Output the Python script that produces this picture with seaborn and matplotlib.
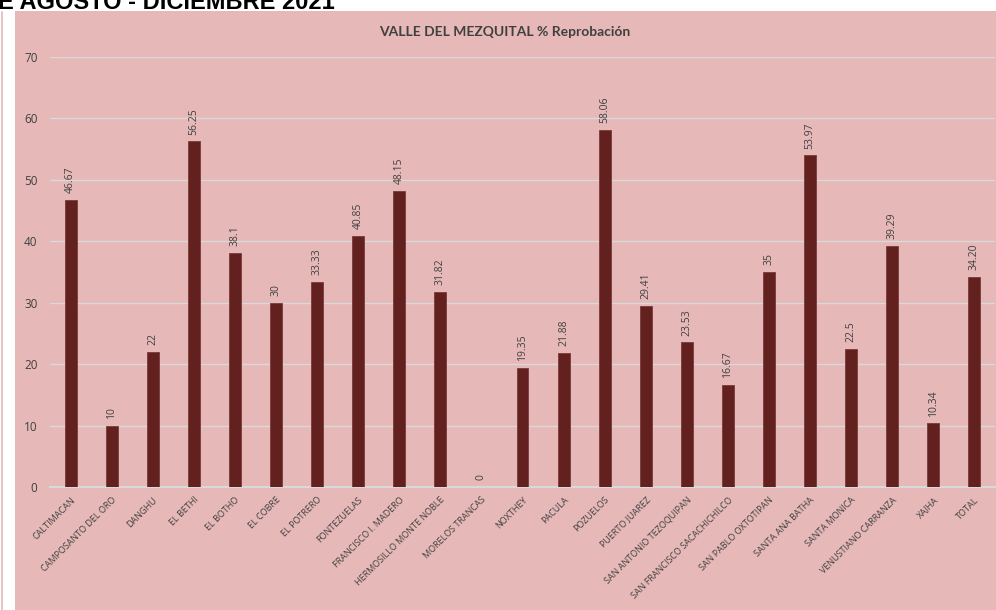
import matplotlib
matplotlib.use("Agg")
import matplotlib.pyplot as plt
import seaborn as sns
import pandas as pd
from matplotlib.patches import Rectangle
from matplotlib.lines import Line2D

escuelas = ["CALTIMACAN", "CAMPOSANTO DEL ORO", "DANGHU", "EL BETHI", "EL BOTHO",
            "EL COBRE", "EL POTRERO", "FONTEZUELAS", "FRANCISCO I. MADERO",
            "HERMOSILLO MONTE NOBLE", "MORELOS TRANCAS", "NOXTHEY", "PACULA",
            "POZUELOS", "PUERTO JUAREZ", "SAN ANTONIO TEZOQUIPAN",
            "SAN FRANCISCO SACACHICHILCO", "SAN PABLO OXTOTIPAN", "SANTA ANA BATHA",
            "SANTA MONICA", "VENUSTIANO CARRANZA", "XAJHA", "TOTAL"]
reprobacion = [46.67, 10, 22, 56.25, 38.1, 30, 33.33, 40.85, 48.15, 31.82, 0,
               19.35, 21.88, 58.06, 29.41, 23.53, 16.67, 35, 53.97, 22.5, 39.29,
               10.34, 34.20]
etiquetas = ["46.67", "10", "22", "56.25", "38.1", "30", "33.33", "40.85", "48.15",
             "31.82", "0", "19.35", "21.88", "58.06", "29.41", "23.53", "16.67",
             "35", "53.97", "22.5", "39.29", "10.34", "34.20"]

sns.set_style("white")
plt.rcParams['font.family'] = ['Open Sans', 'DejaVu Sans']

rosa = "#E6B8B8"
gris = "#404040"

df = pd.DataFrame({'escuela': escuelas, 'pct': reprobacion})

fig = plt.figure(figsize=(9.96, 6.10), dpi=100)
fig.patch.set_facecolor("white")
# fondo rosa del area del grafico
fig.patches.append(Rectangle((15 / 996, 0), 1, 1 - 11 / 610, transform=fig.transFigure,
                             facecolor=rosa, edgecolor="none", zorder=-5))
fig.lines.append(Line2D([1.5 / 996, 1.5 / 996], [0, 1 - 12 / 610], transform=fig.transFigure,
                        color=rosa, lw=1.2, zorder=-5))

ax = fig.add_axes([50 / 996, 123 / 610, 945 / 996, 430 / 610])
ax.set_facecolor("none")
sns.barplot(data=df, x='escuela', y='pct', color="#62211F", width=0.29,
            saturation=1, ax=ax, zorder=3, edgecolor="#7A3A38", linewidth=0.6)

ax.set_xlim(-0.5, 22.5)
ax.set_ylim(0, 70)
ax.set_yticks(range(0, 71, 10))
ax.yaxis.grid(True, color="#D9D9D9", lw=1)
ax.set_axisbelow(True)
for s in ax.spines.values():
    s.set_visible(False)
ax.spines['bottom'].set_visible(True)
ax.spines['bottom'].set_color("#D9D9D9")
ax.spines['bottom'].set_linewidth(1.5)
ax.set_xlabel("")
ax.set_ylabel("")
ax.tick_params(axis='y', length=0, pad=9, labelsize=8.5, labelcolor=gris)
ax.tick_params(axis='x', length=0, pad=6, labelsize=6.5, labelcolor=gris)
plt.setp(ax.get_xticklabels(), rotation=45, ha="right", rotation_mode="anchor")

for i, (v, t) in enumerate(zip(reprobacion, etiquetas)):
    ax.annotate(t, (i, v), xytext=(0, 5), textcoords="offset points",
                rotation=90, ha="center", va="bottom", fontsize=7.5, color=gris)

fig.text(505 / 996, 1 - 32 / 610, "VALLE DEL MEZQUITAL % Reprobación", ha="center",
         va="center", fontsize=10, fontweight="bold", color=gris,
         family=['Lato', 'DejaVu Sans'])
fig.text(-0.002, 1 - 9 / 610, "E AGOSTO - DICIEMBRE 2021", ha="left", va="baseline",
         fontsize=17, fontweight="bold", color="black",
         family=['Liberation Sans', 'DejaVu Sans'])

fig.savefig("out.png", dpi=100, facecolor="white")
